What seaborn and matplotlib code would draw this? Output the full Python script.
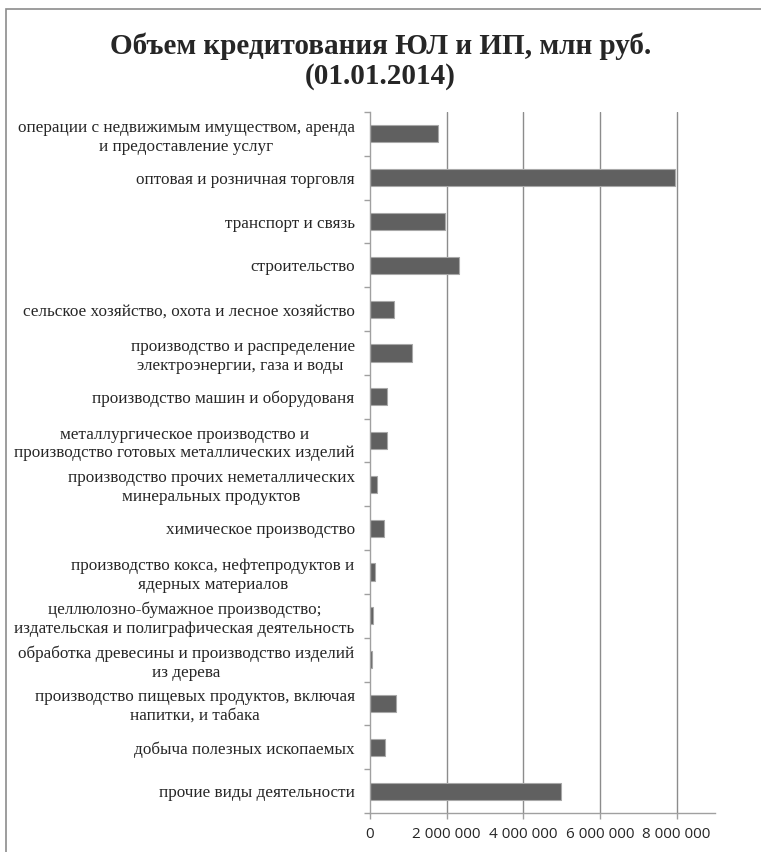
import numpy as np
import pandas as pd
import matplotlib
matplotlib.use("Agg")
import matplotlib.pyplot as plt
import seaborn as sns
from matplotlib.patches import Rectangle
from matplotlib.ticker import FuncFormatter

categories = [
    "операции с недвижимым имуществом, аренда\nи предоставление услуг",
    "оптовая и розничная торговля",
    "транспорт и связь",
    "строительство",
    "сельское хозяйство, охота и лесное хозяйство",
    "производство и распределение\nэлектроэнергии, газа и воды ",
    "производство машин и оборудованя",
    "металлургическое производство и\nпроизводство готовых металлических изделий",
    "производство прочих неметаллических\nминеральных продуктов",
    "химическое производство",
    "производство кокса, нефтепродуктов и\nядерных материалов",
    "целлюлозно-бумажное производство;\nиздательская и полиграфическая деятельность",
    "обработка древесины и производство изделий\nиз дерева",
    "производство пищевых продуктов, включая\nнапитки, и табака",
    "добыча полезных ископаемых",
    "прочие виды деятельности",
]
values = [1770000, 7950000, 1965000, 2330000, 635000, 1087000, 435000, 452000,
          190000, 357000, 140000, 70000, 43000, 670000, 400000, 4970000]
xticks = [0, 2000000, 4000000, 6000000, 8000000]
title = "Объем кредитования ЮЛ и ИП, млн руб.\n(01.01.2014)"

df = pd.DataFrame({"cat": categories, "val": values})

sns.set_theme(style="white")
plt.rcParams["font.family"] = ["Liberation Serif", "DejaVu Serif"]

fig = plt.figure(figsize=(7.61, 8.52), dpi=100)
fig.patches.append(Rectangle((6 / 761, -0.1), 1.2, (1 - 9 / 852) + 0.1,
                             transform=fig.transFigure, fill=False,
                             edgecolor="#8c8c8c", linewidth=1.2))
ax = fig.add_axes([370 / 761, 1 - 813 / 852, 345 / 761, (813 - 112) / 852])

sns.barplot(data=df, y="cat", x="val", orient="h", color="#606060",
            edgecolor="#a8a8a8", linewidth=0.8, width=0.39, saturation=1, ax=ax)

n = len(categories)
ax.set_xlim(0, 9000000)
ax.set_ylim(n - 0.5, -0.5)
ax.set_xticks(xticks)
ax.xaxis.set_major_formatter(FuncFormatter(lambda v, p: f"{int(v):,}".replace(",", " ")))
for lab in ax.get_xticklabels():
    lab.set_family(["Open Sans", "DejaVu Sans"])
    lab.set_fontsize(11)
ax.set_yticks(np.arange(-0.5, n, 1))
ax.set_yticklabels([])
ax.set_yticks(np.arange(n), minor=True)
ax.set_yticklabels(categories, minor=True, fontsize=12.3, multialignment="center",
                   linespacing=1.22)
ax.tick_params(axis="y", which="minor", length=0, pad=11)
ax.tick_params(axis="y", which="major", length=4, width=1, color="#a0a0a0", direction="out", left=True)
ax.tick_params(axis="x", which="major", length=4, width=1, color="#a0a0a0", direction="out", bottom=True, pad=6)
ax.set_xlabel("")
ax.set_ylabel("")
for x in xticks[1:]:
    ax.axvline(x, color="#8c8c8c", linewidth=1, zorder=0)
for s in ["top", "right"]:
    ax.spines[s].set_visible(False)
for s in ["left", "bottom"]:
    ax.spines[s].set_color("#a0a0a0")
    ax.spines[s].set_linewidth(1)

fig.text(0.5, 1 - 61 / 852, title, ha="center", va="center", fontsize=21,
         fontweight="bold", linespacing=1.15)

fig.savefig("out.png", dpi=100)
